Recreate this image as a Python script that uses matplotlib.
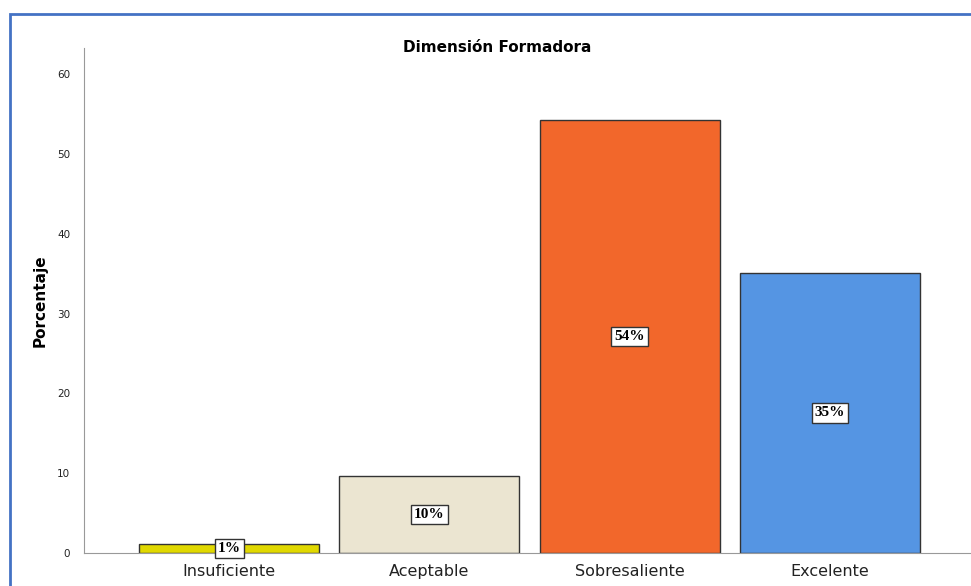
import matplotlib.pyplot as plt
from matplotlib.patches import Rectangle

categorias = ['Insuficiente', 'Aceptable', 'Sobresaliente', 'Excelente']
porcentajes = [1.1, 9.6, 54.3, 35.1]
etiquetas = ['1%', '10%', '54%', '35%']
colores = ['#E0D800', '#EBE5D1', '#F2672B', '#5595E3']

fig = plt.figure(figsize=(9.71, 5.86), dpi=100)

# blue frame around the chart
fig.patches.append(Rectangle((10 / 971, -0.05), 1.0, 1 - 14 / 586 + 0.05,
                             transform=fig.transFigure, fill=False,
                             edgecolor='#4472C4', linewidth=2))

ax = fig.add_axes([84 / 971, 33 / 586, 1 - 84 / 971, (553 - 48) / 586])
x = range(len(categorias))
ax.bar(x, porcentajes, width=0.9, color=colores, edgecolor='#333333', linewidth=1)

for i, v in enumerate(porcentajes):
    ax.text(i, v / 2, etiquetas[i], ha='center', va='center', fontsize=11,
            fontweight='bold', family='Liberation Serif',
            bbox=dict(boxstyle='square,pad=0.2', facecolor='white',
                      edgecolor='#333333', linewidth=1))

ax.set_xlim(-0.725, 3.705)
ax.set_ylim(0, 63.3)
ax.set_yticks([0, 10, 20, 30, 40, 50, 60])
ax.set_xticks(list(x))
ax.set_xticklabels(categorias, fontsize=11.5, color='#222222')
ax.tick_params(axis='y', length=0, labelsize=7.5, pad=10, labelcolor='#222222')
ax.tick_params(axis='x', length=0, pad=8)

for s in ['top', 'right']:
    ax.spines[s].set_visible(False)
ax.spines['left'].set_color('#999999')
ax.spines['bottom'].set_color('#999999')

ax.set_ylabel('Porcentaje', fontsize=11, fontweight='bold')
ax.yaxis.set_label_coords(-36 / 887, 0.5)
fig.text(497 / 971, 1 - 47 / 586, 'Dimensión Formadora', ha='center', va='center',
         fontsize=11, fontweight='bold')

fig.savefig('out.png', dpi=100)
